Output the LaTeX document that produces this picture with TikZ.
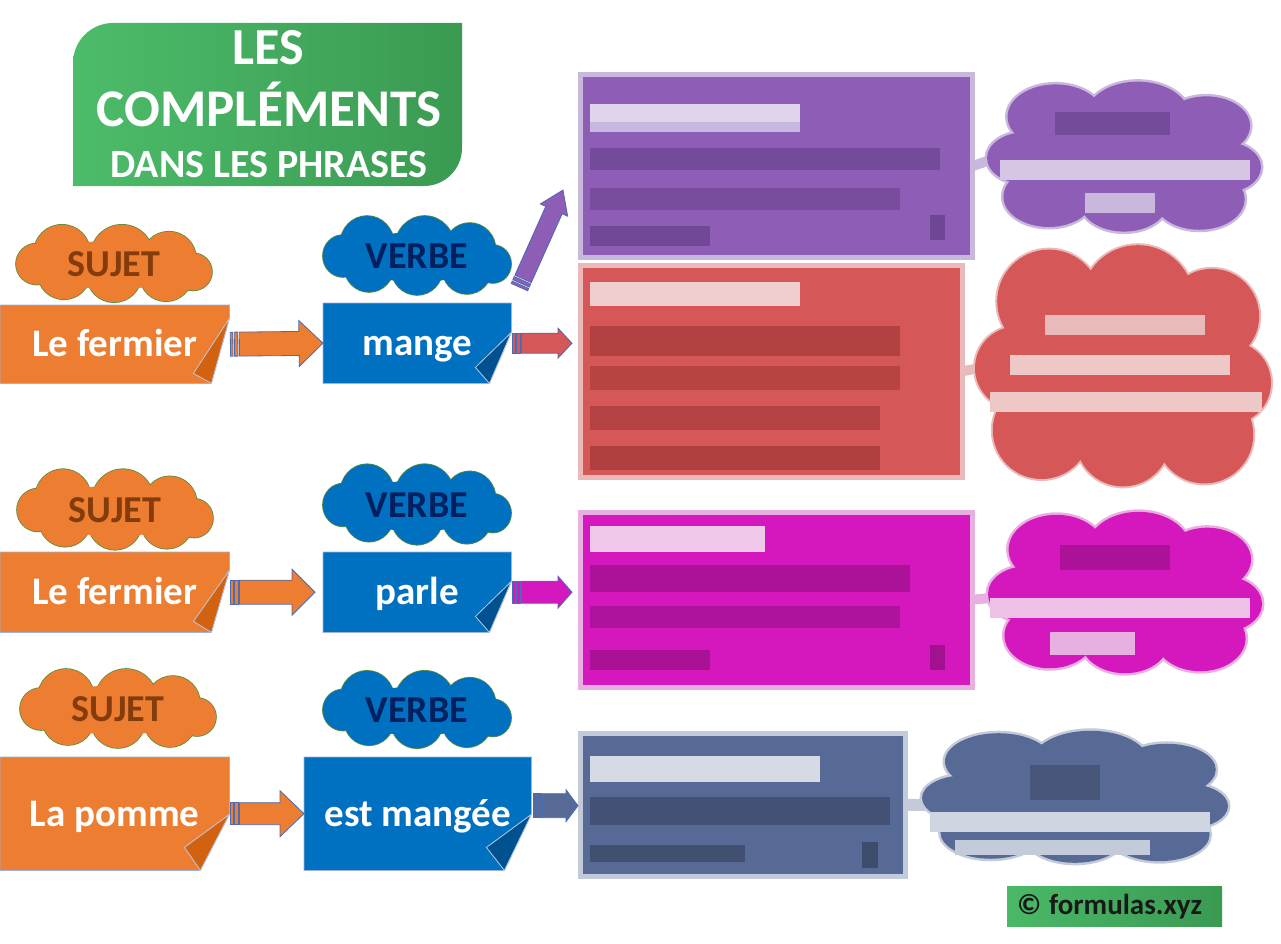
\documentclass[tikz,border=0pt]{standalone}
\usepackage{fontspec}
\setmainfont{Carlito}
\usetikzlibrary{calc,backgrounds}
\definecolor{orangeA}{HTML}{ED7D31}
\definecolor{orangeF}{HTML}{D2620F}
\definecolor{blueA}{HTML}{0070C0}
\definecolor{blueF}{HTML}{00518F}
\definecolor{sujetT}{HTML}{843C0C}
\definecolor{verbeT}{HTML}{002060}
\definecolor{cloudE}{HTML}{5B8C3A}
\definecolor{boxE}{HTML}{9DB3DA}
\definecolor{arrE}{HTML}{4A6BB5}
\definecolor{greenL}{HTML}{4CBC6A}
\definecolor{greenD}{HTML}{3A9A52}
\definecolor{purA}{HTML}{8E5DB5}
\definecolor{purL}{HTML}{C9B8DD}
\definecolor{purD}{HTML}{6E4694}
\definecolor{redA}{HTML}{D55757}
\definecolor{redL}{HTML}{EAB9B9}
\definecolor{redD}{HTML}{AA3B3B}
\definecolor{magA}{HTML}{D418BE}
\definecolor{magL}{HTML}{E8B0E0}
\definecolor{magD}{HTML}{A2118F}
\definecolor{grA}{HTML}{576A95}
\definecolor{grL}{HTML}{C3CAD9}
\definecolor{grD}{HTML}{3E4C6C}
\tikzset{
  sbox/.style={rectangle, inner sep=0pt, anchor=north west, text=white,
    font=\fontsize{39}{44}\selectfont\bfseries, text height=25pt, text depth=0pt},
  ctext/.style={rectangle, inner sep=0pt, font=\fontsize{38}{44}\selectfont\bfseries,
    text height=24pt, text depth=0pt},
  boxedge/.style={draw=boxE, line width=0.8pt},
  foldedge/.style={draw=boxE!70!white, line width=0.8pt},
  arredge/.style={draw=arrE, line width=0.8pt},
  pixrect/.style={line width=5pt},
  ttl/.style={text=white, font=\bfseries, inner sep=0pt, anchor=base},
}
% flat cloud designed for a 196x78 box
\newcommand\cloudlist{-52/-12/28,8/-9/31,55/-6/27,79/8/19,52/12/26,0/12/27,-50/10/26,-77/0/21}
% round cloud designed for a 200x160 box
\newcommand\roundlist{-50/-45/35,10/-45/38,60/-35/32,72/10/28,55/45/33,0/48/32,-55/42/33,-72/0/28}
% cloud as a union of circles: #1 centre, #2 xscale, #3 yscale, #4 fill, #5 edge colour, #6 edge width, #7 list, #8 filler rx, #9 filler ry
\newcommand\ucloud[9]{%
  \begin{scope}[shift={(#1)}, xscale=#2, yscale=#3]
    \foreach \cx/\cy/\cr in #7
      {\draw[draw=#5, line width=#6] (\cx,\cy) circle[radius=\cr];}
    \foreach \cx/\cy/\cr in #7
      {\fill[#4] (\cx,\cy) circle[radius=\cr];}
    \fill[#4] (0,1) ellipse[x radius=#8, y radius=#9];
  \end{scope}}
% folded-corner box drawn behind a named node
\newcommand\foldbox[7]{%
  \begin{pgfonlayer}{background}
  \filldraw[boxedge, fill=#2] (#1.north west) -- (#1.north east)
    -- ($(#1.south east)+(0,-#4)$) -- ($(#1.south east)+(-#7,0)$)
    -- (#1.south west) -- cycle;
  \filldraw[foldedge, fill=#3] ($(#1.south east)+(0,-#4)$)
    -- ($(#1.south east)+(-#5,-#6)$) -- ($(#1.south east)+(-#7,0)$) -- cycle;
  \end{pgfonlayer}}
% striped block arrow from #1 to #2 ; #3 fill, #4 body half, #5 head half, #6 head length
\newcommand\sarrow[6]{%
  \path let \p1=($(#2)-(#1)$) in \pgfextra{%
    \pgfmathsetmacro\arang{atan2(\y1,\x1)}\xdef\arangG{\arang}%
    \pgfmathsetmacro\arlen{veclen(\x1,\y1)}\xdef\arlenG{\arlen}};
  \pgfmathsetmacro\arhx{\arlenG-#6}%
  \begin{scope}[shift={(#1)}, rotate=\arangG]
    \filldraw[arredge, fill=#3] (1pt,-#4pt) rectangle (3.5pt,#4pt);
    \filldraw[arredge, fill=#3] (5pt,-#4pt) rectangle (8.5pt,#4pt);
    \filldraw[arredge, fill=#3] (10pt,-#4pt) -- (\arhx pt,-#4pt) -- (\arhx pt,-#5pt)
      -- (\arlenG pt,0pt) -- (\arhx pt,#5pt) -- (\arhx pt,#4pt) -- (10pt,#4pt) -- cycle;
  \end{scope}}
\begin{document}
\begin{tikzpicture}[x=1pt,y=-1pt]
\useasboundingbox (0,0) rectangle (1281,944);

% ---------- title ----------
\shade[left color=greenL, right color=greenD]
  (73,186) -- (73,63) .. controls (73,41) and (91,23) .. (113,23) -- (462,23)
  -- (462,148) .. controls (462,169) and (445,186) .. (424,186) -- cycle;
\node[ttl, font=\fontsize{52}{56}\selectfont\bfseries] (t1) at (268,65) {LES};
\node[ttl, font=\fontsize{53}{58}\selectfont\bfseries] (t2) at (269,127) {COMPLÉMENTS};
\node[ttl, font=\fontsize{40}{44}\selectfont\bfseries] (t3) at (269,178) {DANS LES PHRASES};

% ---------- row 1 ----------
\node[ctext, text=sujetT] (s1) at (114,264) {SUJET};
\node[ctext, text=verbeT] (v1) at (417,256) {VERBE};
\begin{pgfonlayer}{background}
\ucloud{s1}{1}{0.98}{orangeA}{cloudE}{1.6pt}{\cloudlist}{72}{25}
\ucloud{v1}{0.96}{1}{blueA}{cloudE}{1.6pt}{\cloudlist}{72}{25}
\end{pgfonlayer}
\node[sbox, minimum width=229pt, minimum height=78pt] (b1) at (0,305) {Le fermier};
\foldbox{b1}{orangeA}{orangeF}{65}{36}{10}{18}
\node[sbox, minimum width=188pt, minimum height=80pt] (m1) at (323,303) {mange};
\foldbox{m1}{blueA}{blueF}{51}{36}{16}{22}
\sarrow{b1.east}{m1.west}{orangeA}{12}{23}{24}

% ---------- row 2 ----------
\node[ctext, text=sujetT] (s2) at (115,510) {SUJET};
\node[ctext, text=verbeT] (v2) at (417,505) {VERBE};
\begin{pgfonlayer}{background}
\ucloud{s2}{1}{1.02}{orangeA}{cloudE}{1.6pt}{\cloudlist}{72}{25}
\ucloud{v2}{0.96}{1.02}{blueA}{cloudE}{1.6pt}{\cloudlist}{72}{25}
\end{pgfonlayer}
\node[sbox, minimum width=229pt, minimum height=80pt] (b2) at (0,552) {Le fermier};
\foldbox{b2}{orangeA}{orangeF}{62}{36}{11}{18}
\node[sbox, minimum width=188pt, minimum height=80pt] (m2) at (323,552) {parle};
\foldbox{m2}{blueA}{blueF}{51}{36}{16}{22}
\coordinate (e2) at ($(m2.west)+(-8,0)$);
\sarrow{b2.east}{e2}{orangeA}{12}{23}{23}

% ---------- row 3 ----------
\node[ctext, text=sujetT] (s3) at (118,709) {SUJET};
\node[ctext, text=verbeT] (v3) at (417,710) {VERBE};
\begin{pgfonlayer}{background}
\ucloud{s3}{1}{1}{orangeA}{cloudE}{1.6pt}{\cloudlist}{72}{25}
\ucloud{v3}{0.96}{0.98}{blueA}{cloudE}{1.6pt}{\cloudlist}{72}{25}
\end{pgfonlayer}
\node[sbox, minimum width=229pt, minimum height=113pt] (b3) at (0,757) {La pomme};
\foldbox{b3}{orangeA}{orangeF}{56}{45}{23}{29}
\node[sbox, minimum width=227pt, minimum height=113pt] (m3) at (304,757) {est mangée};
\foldbox{m3}{blueA}{blueF}{56}{45}{23}{27}
\sarrow{b3.east}{m3.west}{orangeA}{11}{23}{24}

% ---------- right side (pixelated content) ----------
% purple
\node[rectangle, minimum width=392pt, minimum height=182pt, anchor=north west] (r1) at (580,75) {};
\coordinate (c1) at (1124,158);
\coordinate (c1w) at (990,160);
\draw[purL, line width=10pt] (r1.east) -- (c1w);
\filldraw[pixrect, draw=purL, fill=purA] (r1.north west) rectangle (r1.south east);
\ucloud{c1}{1.37}{0.92}{purA}{purL}{5pt}{\roundlist}{75}{55}
\fill[purL!60!white] (590,104) rectangle (800,122);
\fill[purL] (590,122) rectangle (800,132);
\fill[purD!80!purA] (590,148) rectangle (940,170);
\fill[purD!70!purA] (590,188) rectangle (900,210);
\fill[purD!90!purA] (590,226) rectangle (710,246);
\fill[purD] (930,215) rectangle (945,240);
\fill[purD!80!purA] (1055,112) rectangle (1170,135);
\fill[purL!80!white] (1000,160) rectangle (1250,180);
\fill[purL] (1085,193) rectangle (1155,213);
% red
\node[rectangle, minimum width=382pt, minimum height=212pt, anchor=north west] (r2) at (580,265) {};
\coordinate (c2) at (1123,368);
\coordinate (c2w) at (980,368);
\draw[redL, line width=10pt] (r2.east) -- (c2w);
\filldraw[pixrect, draw=redL, fill=redA] (r2.north west) rectangle (r2.south east);
\ucloud{c2}{1.48}{1.48}{redA}{redL}{4pt}{\roundlist}{75}{55}
\fill[redL!70!white] (590,282) rectangle (800,306);
\fill[redD!80!redA] (590,326) rectangle (900,356);
\fill[redD!70!redA] (590,366) rectangle (900,390);
\fill[redD!75!redA] (590,406) rectangle (880,430);
\fill[redD!85!redA] (590,446) rectangle (880,470);
\fill[redL] (1045,315) rectangle (1205,335);
\fill[redL!80!white] (1010,355) rectangle (1230,375);
\fill[redL!80!white] (990,392) rectangle (1262,412);
% magenta
\node[rectangle, minimum width=392pt, minimum height=175pt, anchor=north west] (r3) at (580,512) {};
\coordinate (c3) at (1125,594);
\coordinate (c3w) at (990,598);
\draw[magL, line width=10pt] (r3.east) -- (c3w);
\filldraw[pixrect, draw=magL, fill=magA] (r3.north west) rectangle (r3.south east);
\ucloud{c3}{1.37}{0.99}{magA}{magL}{5pt}{\roundlist}{75}{55}
\fill[magL!70!white] (590,526) rectangle (765,552);
\fill[magD!80!magA] (590,565) rectangle (910,592);
\fill[magD!75!magA] (590,606) rectangle (900,628);
\fill[magD!85!magA] (590,650) rectangle (710,670);
\fill[magD] (930,645) rectangle (945,670);
\fill[magD!80!magA] (1060,545) rectangle (1170,570);
\fill[magL!80!white] (990,598) rectangle (1250,618);
\fill[magL] (1050,632) rectangle (1135,655);
% grey blue
\node[rectangle, minimum width=325pt, minimum height=143pt, anchor=north west] (r4) at (580,733) {};
\coordinate (c4) at (1075,798);
\coordinate (c4w) at (925,805);
\draw[grL, line width=12pt] (r4.east) -- (c4w);
\filldraw[pixrect, draw=grL, fill=grA] (r4.north west) rectangle (r4.south east);
\ucloud{c4}{1.53}{0.81}{grA}{grL}{5pt}{\roundlist}{75}{55}
\fill[grL!70!white] (590,756) rectangle (820,782);
\fill[grD!80!grA] (590,797) rectangle (890,825);
\fill[grD!90!grA] (590,845) rectangle (745,862);
\fill[grD] (862,842) rectangle (878,868);
\fill[grD!70!grA] (1030,765) rectangle (1100,800);
\fill[grL!80!white] (930,812) rectangle (1210,832);
\fill[grL] (955,840) rectangle (1150,855);

% small arrows to the right
\coordinate (p1s) at (519,288);
\coordinate (p1e) at (563,190);
\sarrow{p1s}{p1e}{purA}{9}{15}{22}
\coordinate (a1e) at ($(r1.west|-m1.east)+(-8,0)$);
\sarrow{m1.east}{a1e}{redA}{10}{15}{14}
\coordinate (a2e) at ($(r3.west|-m2.east)+(-8,0)$);
\sarrow{m2.east}{a2e}{magA}{11}{16}{14}
\coordinate (a3s) at ($(m3.east)+(1,-8)$);
\coordinate (a3e) at ($(r4.west|-a3s)+(-2,0)$);
\sarrow{a3s}{a3e}{grA}{12}{16}{12}

% ---------- footer ----------
\node[rectangle, left color=greenL!90!greenD, right color=greenD, text width=195pt, align=left,
  minimum height=40pt, inner xsep=10pt, inner ysep=0pt, anchor=north west, text=black!90,
  font=\fontsize{29}{34}\selectfont\bfseries] (ft) at (1007,886) {©\kern-2pt~formulas.xyz};
\end{tikzpicture}
\end{document}
